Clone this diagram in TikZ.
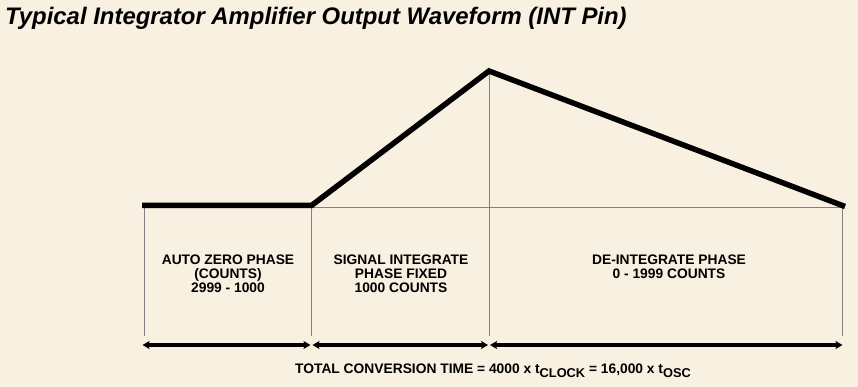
\documentclass[tikz,border=0pt]{standalone}
\usepackage{fontspec}
\setmainfont{Liberation Sans}
\usetikzlibrary{arrows.meta}
\definecolor{bgbeige}{RGB}{248,240,224}
\definecolor{guidegray}{RGB}{128,128,128}
\begin{document}
\begin{tikzpicture}[x=1pt,y=-1pt,
  wave/.style={line width=5.5pt,line join=miter,line cap=butt},
  guide/.style={draw=guidegray,line width=1pt},
  span/.style={line width=3.5pt,{Stealth[length=7pt,width=8pt,inset=1.5pt]}-{Stealth[length=7pt,width=8pt,inset=1.5pt]}},
  lbl/.style={font=\bfseries\fontsize{13.8}{14}\selectfont,align=center,inner sep=0pt},
  ttl/.style={font=\bfseries\itshape\fontsize{23.9}{28}\selectfont,inner sep=0pt,anchor=base west}]
\fill[bgbeige] (0,0) rectangle (858,387);
\useasboundingbox (0,0) rectangle (858,387);
% title
\node[ttl] (title) at (5,25) {Typical Integrator Amplifier Output Waveform (INT Pin)};
% waveform points
\coordinate (w0) at (142,205.5);
\coordinate (w1) at (311.5,205.5);
\coordinate (w2) at (489,71);
\coordinate (w3) at (845,206.5);
% guide lines
\coordinate (g0t) at (144,208);
\coordinate (g0b) at (144,336);
\coordinate (g1t) at (311.5,208);
\coordinate (g1b) at (311.5,336);
\coordinate (g2t) at (489,72);
\coordinate (g2b) at (489,336);
\coordinate (g3t) at (842,208);
\coordinate (g3b) at (842,336);
\coordinate (gh0) at (311.5,208);
\coordinate (gh1) at (842,208);
\draw[guide] (g0t) -- (g0b);
\draw[guide] (g1t) -- (g1b);
\draw[guide] (g2t) -- (g2b);
\draw[guide] (g3t) -- (g3b);
\draw[guide] (gh0) -- (gh1);
\draw[wave] (w0) -- (w1) -- (w2) -- (w3);
% spans
\coordinate (a0) at (142.5,345);
\coordinate (a1) at (310.5,345);
\coordinate (a2) at (312.5,345);
\coordinate (a3) at (488,345);
\coordinate (a4) at (490,345);
\coordinate (a5) at (842.5,345);
\draw[span] (a0) -- (a1);
\draw[span] (a2) -- (a3);
\draw[span] (a4) -- (a5);
% labels
\node[lbl] (autozero) at (228,274) {AUTO ZERO PHASE\\(COUNTS)\\2999 - 1000};
\node[lbl] (sigint) at (401,274) {SIGNAL INTEGRATE\\PHASE FIXED\\1000 COUNTS};
\node[lbl] (deint) at (669,267) {DE-INTEGRATE PHASE\\0 - 1999 COUNTS};
\node[font=\bfseries\fontsize{13.8}{14}\selectfont,inner sep=0pt,anchor=base] (total) at (493,373)
  {TOTAL CONVERSION TIME = 4000 x t\raisebox{-4pt}{\fontsize{12.8}{12.8}\selectfont CLOCK} = 16,000 x t\raisebox{-4pt}{\fontsize{12.8}{12.8}\selectfont OSC}};
\end{tikzpicture}
\end{document}
